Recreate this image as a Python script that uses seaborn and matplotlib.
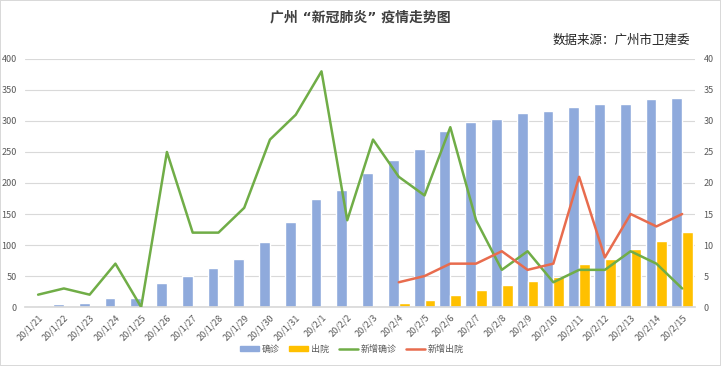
import matplotlib.pyplot as plt
import numpy as np
import pandas as pd
import seaborn as sns
from matplotlib.lines import Line2D
from matplotlib.patches import Patch

dates = ['20/1/21', '20/1/22', '20/1/23', '20/1/24', '20/1/25', '20/1/26', '20/1/27',
         '20/1/28', '20/1/29', '20/1/30', '20/1/31', '20/2/1', '20/2/2', '20/2/3',
         '20/2/4', '20/2/5', '20/2/6', '20/2/7', '20/2/8', '20/2/9', '20/2/10',
         '20/2/11', '20/2/12', '20/2/13', '20/2/14', '20/2/15']
confirmed = [2, 5, 7, 14, 14, 39, 50, 63, 77, 105, 137, 174, 189, 216,
             237, 255, 284, 299, 303, 313, 316, 322, 327, 327, 335, 337]
discharged = [0, 0, 0, 0, 0, 0, 0, 0, 0, 0, 2, 0, 0, 0,
              7, 12, 20, 27, 36, 42, 49, 70, 78, 93, 106, 121]
new_confirmed = [2, 3, 2, 7, 0, 25, 12, 12, 16, 27, 31, 38, 14, 27,
                 21, 18, 29, 14, 6, 9, 4, 6, 6, 9, 7, 3]
new_discharged = [None] * 14 + [4, 5, 7, 7, 9, 6, 7, 21, 8, 15, 13, 15]

c_blue = '#8FAADC'
c_yellow = '#FFC000'
c_green = '#70AD47'
c_red = '#E86C4E'
c_text = '#595959'

sns.set_theme(style='white')
plt.rcParams['font.family'] = ['Noto Sans CJK SC', 'DejaVu Sans']

bars = pd.DataFrame({
    'date': dates * 2,
    'value': confirmed + discharged,
    'kind': ['确诊'] * len(dates) + ['出院'] * len(dates),
})

fig = plt.figure(figsize=(7.21, 3.66), dpi=100, linewidth=1.2, edgecolor='#d9d9d9')
ax = fig.add_axes([0.035, 0.161, 0.929, 0.678])

sns.barplot(data=bars, x='date', y='value', hue='kind', order=dates,
            hue_order=['确诊', '出院'], palette=[c_blue, c_yellow],
            width=0.84, saturation=1, legend=False, ax=ax)
ax.set_ylim(0, 400)
ax.set_yticks(range(0, 401, 50))
ax.yaxis.grid(True, color='#d9d9d9', linewidth=0.8)
ax.set_axisbelow(True)
ax.set_xlabel('')
ax.set_ylabel('')

ax2 = ax.twinx()
xpos = np.arange(len(dates))
sns.lineplot(x=xpos, y=new_confirmed, color=c_green, linewidth=1.8, ax=ax2)
sns.lineplot(x=xpos, y=np.array(new_discharged, dtype=float), color=c_red,
             linewidth=1.8, ax=ax2)
ax2.set_ylim(0, 40)
ax2.set_yticks(range(0, 41, 5))
ax.set_xlim(-0.5, len(dates) - 0.5)

for a in (ax, ax2):
    for s in a.spines.values():
        s.set_visible(False)
    a.tick_params(axis='y', length=0, labelsize=6.5, labelcolor=c_text, pad=6)
ax.spines['bottom'].set_visible(True)
ax.spines['bottom'].set_color('#d9d9d9')

ax.set_xticks(xpos)
ax.set_xticklabels(dates, rotation=45, ha='right', rotation_mode='anchor')
ax.tick_params(axis='x', length=0, labelsize=6.5, labelcolor=c_text, pad=4)
ax.set_xticks(np.arange(-0.5, len(dates), 1), minor=True)
ax.tick_params(axis='x', which='minor', length=3, color='#d9d9d9', width=0.8)

fig.text(0.5, 0.953, '广州 “新冠肺炎” 疫情走势图', ha='center', va='center',
         fontsize=10, fontweight='bold', color='#404040',
         family=['DejaVu Sans', 'Noto Sans CJK SC'])
fig.text(0.957, 0.89, '数据来源：广州市卫建委', ha='right', va='center',
         fontsize=9, color='#222222')

handles = [Patch(color=c_blue), Patch(color=c_yellow),
           Line2D([], [], color=c_green, linewidth=1.8),
           Line2D([], [], color=c_red, linewidth=1.8)]
fig.legend(handles, ['确诊', '出院', '新增确诊', '新增出院'], loc='center',
           bbox_to_anchor=(0.488, 0.046), ncol=4, frameon=False, fontsize=6.5,
           labelcolor=c_text, handlelength=2.1, handleheight=0.6,
           columnspacing=1.1, handletextpad=0.3)

fig.savefig('out.png', dpi=100, edgecolor=fig.get_edgecolor())
